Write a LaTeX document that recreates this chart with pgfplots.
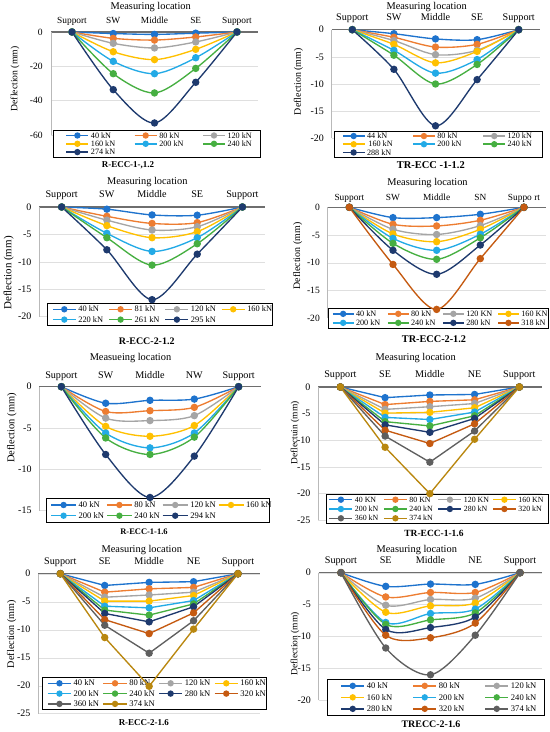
\documentclass[border=0pt]{standalone}
\usepackage{fontspec}
\setmainfont{Liberation Serif}
\usepackage{pgfplots}
\pgfplotsset{compat=1.18}
\definecolor{c40}{RGB}{30,115,205}
\definecolor{c80}{RGB}{237,125,49}
\definecolor{c120}{RGB}{165,165,165}
\definecolor{c160}{RGB}{255,192,0}
\definecolor{c200}{RGB}{35,170,230}
\definecolor{c240}{RGB}{70,175,65}
\definecolor{cnavy}{RGB}{30,58,110}
\definecolor{cdor}{RGB}{197,90,17}
\definecolor{cdgray}{RGB}{95,95,95}
\definecolor{cgold}{RGB}{185,135,15}
\definecolor{axgray}{RGB}{110,110,110}
\newcommand{\fs}[1]{\fontsize{#1}{#1}\selectfont}
\newcommand{\LT}[4]{\makebox[#1bp][l]{\rule[-#3bp]{0pt}{#2bp}#4}}
\pgfplotsset{
  layers/mylayers/.define layer set={axis background,axis grid,axis ticks,axis lines,axis tick labels,axis descriptions,pre main,main,axis foreground}{/pgfplots/layers/standard},
  set layers=mylayers,
  limg/.style={legend image code/.code={\draw[mark repeat=2,mark phase=2,##1,line width=1.5bp,mark size=2.4bp] plot coordinates {(0bp,0bp)(#1bp/2,0bp)(#1bp,0bp)};}},
  panel/.style={
    scale only axis, clip=false, anchor=south west,
    xmin=-0.5, xmax=4.5, ymax=0,
    axis x line*=top, axis y line*=left,
    xtick={0,1,2,3,4},
    x axis line style={line width=1.4bp, draw=axgray},
    y axis line style={line width=0.5bp, draw=gray!55},
    tick style={draw=none}, major tick length=0pt,
    ymajorgrids, grid style={line width=0.4bp, draw=gray!25},
    yticklabel style={anchor=east, inner sep=0pt, xshift=-7.5bp, font=\fs{10}},
    xticklabel style={anchor=base, inner sep=0pt, font=\fs{10.2}},
    legend cell align=left,
    every axis plot/.append style={line width=1.35bp, mark=*, mark size=3bp, mark options={solid}},
    legend style={at={(axis description cs:0,0)}, anchor=north west, draw=black, line width=0.7bp, fill=white,
      cells={anchor=west}, nodes={inner sep=0pt, text depth={}}, row sep=0pt,
      /tikz/every odd column/.append style={column sep=1.8bp},
      /tikz/every even column/.append style={column sep=0pt}},
  },
}
\begin{document}
\begin{tikzpicture}
\path (0,0) rectangle (550bp,732bp);
% ---------- Panel 1
\begin{axis}[panel, at={(51.4bp,597bp)}, width=206.2bp, height=103bp,
  ymin=-60, ytick={-60,-40,-20,0}, yticklabels={-60,-40,-20,0},
  xticklabels={Support,SW,Middle,SE,Support},
  xticklabel style={yshift=8bp, font=\fs{9.4}}, yticklabel style={xshift=-1bp, font=\fs{9.6}},
  legend columns=3, limg=22,
  legend style={xshift=1.9bp, yshift=5bp, inner xsep=12bp, inner ysep=1bp, font=\fs{8.2}}]
\addplot[c40, smooth, tension=0.5] coordinates {(0,0)(1,-0.9)(2,-1.4)(3,-0.7)(4,0)}; \addlegendentry{\LT{43}{8.3}{1.5}{40 kN}}
\addplot[c80, smooth, tension=0.5] coordinates {(0,0)(1,-3.7)(2,-4.7)(3,-2.9)(4,0)}; \addlegendentry{\LT{43}{8.3}{1.5}{80 kN}}
\addplot[c120, smooth, tension=0.5] coordinates {(0,0)(1,-6.6)(2,-9.3)(3,-5.8)(4,0)}; \addlegendentry{\LT{21}{8.3}{1.5}{120 kN}}
\addplot[c160, smooth, tension=0.5] coordinates {(0,0)(1,-11.5)(2,-16.1)(3,-10.1)(4,0)}; \addlegendentry{\LT{43}{8.3}{1.5}{160 kN}}
\addplot[c200, smooth, tension=0.5] coordinates {(0,0)(1,-17.1)(2,-24.3)(3,-15.0)(4,0)}; \addlegendentry{\LT{43}{8.3}{1.5}{200 kN}}
\addplot[c240, smooth, tension=0.5] coordinates {(0,0)(1,-24.3)(2,-35.5)(3,-21.2)(4,0)}; \addlegendentry{\LT{21}{8.3}{1.5}{240 kN}}
\addplot[cnavy, smooth, tension=0.5] coordinates {(0,0)(1,-33.6)(2,-53.0)(3,-29.3)(4,0)}; \addlegendentry{\LT{43}{8.3}{1.5}{274 kN}}
\end{axis}
\node[font=\fs{10.4}, inner sep=0] at (150.7bp,724.7bp) {Measuring location};
\node[font=\fs{9.7}, rotate=90, inner sep=0] at (15bp,653bp) {Deflection (mm)};
\node[font=\bfseries\fs{9}, inner sep=0] at (128bp,567bp) {R-ECC-1-,1.2};
% ---------- Panel 2
\begin{axis}[panel, at={(331.5bp,593.7bp)}, width=208bp, height=108.6bp,
  ymin=-20, ytick={-20,-15,-10,-5,0}, yticklabels={-20,-15,-10,-5,0},
  xticklabels={Support,SW,Middle,SE,Support},
  xticklabel style={yshift=9bp},
  legend columns=3, limg=21.7,
  legend style={xshift=2.8bp, yshift=7.3bp, inner xsep=7.4bp, inner ysep=0.6bp, font=\fs{8.2}}]
\addplot[c40, smooth, tension=0.5] coordinates {(0,0)(1,-0.74)(2,-1.7)(3,-1.84)(4,0)}; \addlegendentry{\LT{45.3}{8.2}{1.45}{44 kN}}
\addplot[c80, smooth, tension=0.5] coordinates {(0,0)(1,-1.4)(2,-3.2)(3,-2.7)(4,0)}; \addlegendentry{\LT{45.3}{8.2}{1.45}{80 kN}}
\addplot[c120, smooth, tension=0.5] coordinates {(0,0)(1,-2.0)(2,-4.6)(3,-3.8)(4,0)}; \addlegendentry{\LT{27.2}{8.2}{1.45}{120 kN}}
\addplot[c160, smooth, tension=0.5] coordinates {(0,0)(1,-2.7)(2,-6.1)(3,-4.0)(4,0)}; \addlegendentry{\LT{45.3}{8.2}{1.45}{\,160 kN}}
\addplot[c200, smooth, tension=0.5] coordinates {(0,0)(1,-3.8)(2,-8.0)(3,-5.5)(4,0)}; \addlegendentry{\LT{45.3}{8.2}{1.45}{200 kN}}
\addplot[c240, smooth, tension=0.5] coordinates {(0,0)(1,-4.7)(2,-10.0)(3,-6.4)(4,0)}; \addlegendentry{\LT{27.2}{8.2}{1.45}{240 kN}}
\addplot[cnavy, smooth, tension=0.5] coordinates {(0,0)(1,-7.3)(2,-17.7)(3,-9.2)(4,0)}; \addlegendentry{\LT{45.3}{8.2}{1.45}{288 kN}}
\end{axis}
\node[font=\fs{10.4}, inner sep=0] at (426.7bp,724.5bp) {Measuring location};
\node[font=\fs{10}, rotate=90, inner sep=0] at (298.3bp,650.3bp) {Deflection (mm)};
\node[font=\bfseries\fs{10.5}, inner sep=0] at (430.8bp,567bp) {TR-ECC -1-1.2};
% ---------- Panel 3
\begin{axis}[panel, at={(39.1bp,415.3bp)}, width=225.9bp, height=109.7bp,
  ymin=-20, ytick={-20,-15,-10,-5,0}, yticklabels={-20,-15,-10,-5,0},
  xticklabels={Support,SW,Middle,SE,Support},
  xticklabel style={yshift=9bp},
  legend columns=4, limg=23,
  legend style={xshift=7.6bp, yshift=13.4bp, inner xsep=5bp, inner ysep=0.5bp, font=\fs{8.4}}]
\addplot[c40, smooth, tension=0.5] coordinates {(0,0)(1,-0.4)(2,-1.45)(3,-1.5)(4,0)}; \addlegendentry{\LT{30}{10.3}{2.5}{40 kN}}
\addplot[c80, smooth, tension=0.5] coordinates {(0,0)(1,-1.7)(2,-3.0)(3,-2.85)(4,0)}; \addlegendentry{\LT{30}{10.3}{2.5}{81 kN}}
\addplot[c120, smooth, tension=0.5] coordinates {(0,0)(1,-2.4)(2,-4.2)(3,-3.6)(4,0)}; \addlegendentry{\LT{30}{10.3}{2.5}{120 kN}}
\addplot[c160, smooth, tension=0.5] coordinates {(0,0)(1,-3.4)(2,-5.6)(3,-4.5)(4,0)}; \addlegendentry{\LT{20.3}{10.3}{2.5}{160 kN}}
\addplot[c200, smooth, tension=0.5] coordinates {(0,0)(1,-4.8)(2,-8.1)(3,-5.6)(4,0)}; \addlegendentry{\LT{30}{10.3}{2.5}{220 kN}}
\addplot[c240, smooth, tension=0.5] coordinates {(0,0)(1,-5.6)(2,-10.6)(3,-6.7)(4,0)}; \addlegendentry{\LT{30}{10.3}{2.5}{261 kN}}
\addplot[cnavy, smooth, tension=0.5] coordinates {(0,0)(1,-7.8)(2,-16.9)(3,-8.6)(4,0)}; \addlegendentry{\LT{30}{10.3}{2.5}{295 kN}}
\end{axis}
\node[font=\fs{10.4}, inner sep=0] at (147.3bp,549.7bp) {Measuring location};
\node[font=\fs{11}, rotate=90, inner sep=0] at (8.6bp,459bp) {Deflection (mm)};
\node[font=\bfseries\fs{10}, inner sep=0] at (146.7bp,390.3bp) {R-ECC-2-1.2};
% ---------- Panel 4
\begin{axis}[panel, at={(327.5bp,413.7bp)}, width=218.3bp, height=111bp,
  ymin=-20, ytick={-20,-15,-10,-5,0}, yticklabels={-20,-15,-10,-5,0},
  xticklabels={Support,SW,Middle,SN,Suppo rt},
  xticklabel style={yshift=7bp, font=\fs{9.4}}, yticklabel style={font=\fs{9.6}},
  legend columns=4, limg=20.7,
  legend style={xshift=0.2bp, yshift=10bp, inner xsep=4bp, inner ysep=0.7bp, font=\fs{8.2}}]
\addplot[c40, smooth, tension=0.5] coordinates {(0,0)(1,-1.86)(2,-1.86)(3,-1.26)(4,0)}; \addlegendentry{\LT{31.1}{9}{1.85}{40 kN}}
\addplot[c80, smooth, tension=0.5] coordinates {(0,0)(1,-3.06)(2,-3.36)(3,-2.34)(4,0)}; \addlegendentry{\LT{31.1}{9}{1.85}{80 kN}}
\addplot[c120, smooth, tension=0.5] coordinates {(0,0)(1,-3.96)(2,-4.9)(3,-3.3)(4,0)}; \addlegendentry{\LT{31.1}{9}{1.85}{120 KN}}
\addplot[c160, smooth, tension=0.5] coordinates {(0,0)(1,-4.8)(2,-6.2)(3,-3.96)(4,0)}; \addlegendentry{\LT{22.9}{9}{1.85}{160 KN}}
\addplot[c200, smooth, tension=0.5] coordinates {(0,0)(1,-5.6)(2,-7.75)(3,-4.86)(4,0)}; \addlegendentry{\LT{31.1}{9}{1.85}{200 kN}}
\addplot[c240, smooth, tension=0.5] coordinates {(0,0)(1,-6.5)(2,-9.37)(3,-5.5)(4,0)}; \addlegendentry{\LT{31.1}{9}{1.85}{240 kN}}
\addplot[cnavy, smooth, tension=0.5] coordinates {(0,0)(1,-7.75)(2,-12.07)(3,-6.8)(4,0)}; \addlegendentry{\LT{31.1}{9}{1.85}{280 kN}}
\addplot[cdor, smooth, tension=0.5] coordinates {(0,0)(1,-10.3)(2,-18.4)(3,-9.25)(4,0)}; \addlegendentry{\LT{22.9}{9}{1.85}{318 kN}}
\end{axis}
\node[font=\fs{10.4}, inner sep=0] at (427.5bp,548.7bp) {Measuring location};
\node[font=\fs{10}, rotate=90, inner sep=0] at (297.7bp,476bp) {Deflection (mm)};
\node[font=\bfseries\fs{10.3}, inner sep=0] at (434bp,392.7bp) {TR-ECC-2-1.2};
% ---------- Panel 5
\begin{axis}[panel, at={(39.2bp,221.3bp)}, width=221.6bp, height=124bp,
  ymin=-15, ytick={-15,-10,-5,0}, yticklabels={-15,-10,-5,0},
  xticklabels={Support,SW,Middle,NW,Support},
  xticklabel style={yshift=8bp},
  legend columns=4, limg=25,
  legend style={xshift=6.5bp, yshift=12.4bp, inner xsep=4.3bp, inner ysep=1bp, font=\fs{8.6}}]
\addplot[c40, smooth, tension=0.5] coordinates {(0,0)(1,-2.0)(2,-1.65)(3,-1.5)(4,0)}; \addlegendentry{\LT{27.5}{10.7}{2.7}{40 kN}}
\addplot[c80, smooth, tension=0.5] coordinates {(0,0)(1,-3.0)(2,-2.9)(3,-2.5)(4,0)}; \addlegendentry{\LT{27.5}{10.7}{2.7}{80 kN}}
\addplot[c120, smooth, tension=0.5] coordinates {(0,0)(1,-3.8)(2,-4.1)(3,-3.5)(4,0)}; \addlegendentry{\LT{27.5}{10.7}{2.7}{120 kN}}
\addplot[c160, smooth, tension=0.5] coordinates {(0,0)(1,-4.8)(2,-6.0)(3,-4.7)(4,0)}; \addlegendentry{\LT{18.9}{10.7}{2.7}{160 kN}}
\addplot[c200, smooth, tension=0.5] coordinates {(0,0)(1,-5.6)(2,-7.4)(3,-5.6)(4,0)}; \addlegendentry{\LT{27.5}{10.7}{2.7}{200 kN}}
\addplot[c240, smooth, tension=0.5] coordinates {(0,0)(1,-6.2)(2,-8.2)(3,-6.1)(4,0)}; \addlegendentry{\LT{27.5}{10.7}{2.7}{240 kN}}
\addplot[cnavy, smooth, tension=0.5] coordinates {(0,0)(1,-8.2)(2,-13.4)(3,-8.4)(4,0)}; \addlegendentry{\LT{27.5}{10.7}{2.7}{294 kN}}
\end{axis}
\node[font=\fs{10.4}, inner sep=0] at (130.5bp,373.7bp) {Measueing location};
\node[font=\fs{10.5}, rotate=90, inner sep=0] at (11.7bp,304bp) {Deflection (mm)};
\node[font=\bfseries\fs{8.5}, inner sep=0] at (144bp,200.5bp) {R-ECC-1-1.6};
% ---------- Panel 6
\begin{axis}[panel, at={(318bp,211.7bp)}, width=223.7bp, height=133.3bp,
  ymin=-25, ytick={-25,-20,-15,-10,-5,0}, yticklabels={-25,-20,-15,-10,-5,0},
  xticklabels={Support,SE,Middle,NE,Support},
  xticklabel style={yshift=9bp},
  legend columns=4, limg=23,
  legend style={xshift=7.7bp, yshift=26.3bp, inner xsep=2.6bp, inner ysep=0.7bp, font=\fs{7.9}}]
\addplot[c40] coordinates {(0,0)(1,-2.0)(2,-1.5)(3,-1.4)(4,0)}; \addlegendentry{\LT{28.2}{9.3}{2}{40 KN}}
\addplot[c80] coordinates {(0,0)(1,-3.3)(2,-2.7)(3,-2.4)(4,0)}; \addlegendentry{\LT{28.2}{9.3}{2}{80 KN}}
\addplot[c120] coordinates {(0,0)(1,-4.2)(2,-3.7)(3,-3.1)(4,0)}; \addlegendentry{\LT{28.2}{9.3}{2}{120 KN}}
\addplot[c160] coordinates {(0,0)(1,-4.9)(2,-4.75)(3,-3.9)(4,0)}; \addlegendentry{\LT{27}{9.3}{2}{160 KN}}
\addplot[c200] coordinates {(0,0)(1,-5.7)(2,-6.1)(3,-4.7)(4,0)}; \addlegendentry{\LT{28.2}{9.3}{2}{200 kN}}
\addplot[c240] coordinates {(0,0)(1,-6.5)(2,-7.3)(3,-5.4)(4,0)}; \addlegendentry{\LT{28.2}{9.3}{2}{240 kN}}
\addplot[cnavy] coordinates {(0,0)(1,-7.1)(2,-8.5)(3,-5.9)(4,0)}; \addlegendentry{\LT{28.2}{9.3}{2}{280 kN}}
\addplot[cdor] coordinates {(0,0)(1,-8.1)(2,-10.6)(3,-6.9)(4,0)}; \addlegendentry{\LT{27}{9.3}{2}{320 kN}}
\addplot[cdgray] coordinates {(0,0)(1,-9.2)(2,-14.1)(3,-8.25)(4,0)}; \addlegendentry{\LT{28.2}{9.3}{2}{360 kN}}
\addplot[cgold] coordinates {(0,0)(1,-11.3)(2,-20.0)(3,-9.8)(4,0)}; \addlegendentry{\LT{28.2}{9.3}{2}{374 kN}}
\end{axis}
\node[font=\fs{10.4}, inner sep=0] at (415.7bp,373.7bp) {Measuring location};
\node[font=\fs{9.5}, rotate=90, inner sep=0] at (295bp,299bp) {Deflectuin (mm)};
\node[font=\bfseries\fs{9.5}, inner sep=0] at (434bp,198.3bp) {TR-ECC-1-1.6};
% ---------- Panel 7
\begin{axis}[panel, at={(38.1bp,18.3bp)}, width=222.1bp, height=140bp,
  ymin=-25, ytick={-25,-20,-15,-10,-5,0}, yticklabels={-25,-20,-15,-10,-5,0},
  xticklabels={Support,SE,Middle,NE,Support},
  xticklabel style={yshift=9bp},
  legend columns=4, limg=23.3,
  legend style={xshift=3.6bp, yshift=36.4bp, inner xsep=5bp, inner ysep=0.5bp, font=\fs{8.6}}]
\addplot[c40] coordinates {(0,0)(1,-2.1)(2,-1.55)(3,-1.43)(4,0)}; \addlegendentry{\LT{29}{10.3}{2.5}{40 kN}}
\addplot[c80] coordinates {(0,0)(1,-3.3)(2,-2.7)(3,-2.45)(4,0)}; \addlegendentry{\LT{29}{10.3}{2.5}{80 kN}}
\addplot[c120] coordinates {(0,0)(1,-4.2)(2,-3.8)(3,-3.3)(4,0)}; \addlegendentry{\LT{29}{10.3}{2.5}{120 kN}}
\addplot[c160] coordinates {(0,0)(1,-4.9)(2,-4.9)(3,-3.9)(4,0)}; \addlegendentry{\LT{20.4}{10.3}{2.5}{160 kN}}
\addplot[c200] coordinates {(0,0)(1,-5.8)(2,-6.1)(3,-4.8)(4,0)}; \addlegendentry{\LT{29}{10.3}{2.5}{200 kN}}
\addplot[c240] coordinates {(0,0)(1,-6.5)(2,-7.4)(3,-5.4)(4,0)}; \addlegendentry{\LT{29}{10.3}{2.5}{240 kN}}
\addplot[cnavy] coordinates {(0,0)(1,-7.1)(2,-8.6)(3,-5.9)(4,0)}; \addlegendentry{\LT{29}{10.3}{2.5}{280 kN}}
\addplot[cdor] coordinates {(0,0)(1,-8.2)(2,-10.7)(3,-7.0)(4,0)}; \addlegendentry{\LT{20.4}{10.3}{2.5}{320 kN}}
\addplot[cdgray] coordinates {(0,0)(1,-9.2)(2,-14.2)(3,-8.4)(4,0)}; \addlegendentry{\LT{29}{10.3}{2.5}{360 kN}}
\addplot[cgold] coordinates {(0,0)(1,-11.4)(2,-20.1)(3,-9.9)(4,0)}; \addlegendentry{\LT{29}{10.3}{2.5}{374 kN}}
\end{axis}
\node[font=\fs{10.4}, inner sep=0] at (141.8bp,182bp) {Measuring location};
\node[font=\fs{10.2}, rotate=90, inner sep=0] at (11.7bp,98bp) {Deflection (mm)};
\node[font=\bfseries\fs{9}, inner sep=0] at (143.8bp,9.3bp) {R-ECC-2-1.6};
% ---------- Panel 8
\begin{axis}[panel, at={(318.6bp,31.7bp)}, width=223.8bp, height=127.6bp,
  ymin=-20, ytick={-20,-15,-10,-5,0}, yticklabels={-20,-15,-10,-5,0},
  xticklabels={Support,SE,Middle,NE,Support},
  xticklabel style={yshift=9bp},
  legend columns=3, limg=23.3,
  legend style={xshift=8.1bp, yshift=21.3bp, inner xsep=13.3bp, inner ysep=0.75bp, font=\fs{8.6}}]
\addplot[c40, smooth, tension=0.5] coordinates {(0,0)(1,-2.14)(2,-1.78)(3,-1.83)(4,0)}; \addlegendentry{\LT{45.4}{11.5}{3.1}{40 kN}}
\addplot[c80, smooth, tension=0.5] coordinates {(0,0)(1,-3.8)(2,-3.1)(3,-3.1)(4,0)}; \addlegendentry{\LT{45.4}{11.5}{3.1}{80 kN}}
\addplot[c120, smooth, tension=0.5] coordinates {(0,0)(1,-5.1)(2,-4.2)(3,-4.0)(4,0)}; \addlegendentry{\LT{19.7}{11.5}{3.1}{120 kN}}
\addplot[c160, smooth, tension=0.5] coordinates {(0,0)(1,-6.2)(2,-5.2)(3,-4.75)(4,0)}; \addlegendentry{\LT{45.4}{11.5}{3.1}{160 kN}}
\addplot[c200, smooth, tension=0.5] coordinates {(0,0)(1,-7.8)(2,-6.4)(3,-5.7)(4,0)}; \addlegendentry{\LT{45.4}{11.5}{3.1}{200 kN}}
\addplot[c240, smooth, tension=0.5] coordinates {(0,0)(1,-8.1)(2,-7.4)(3,-6.3)(4,0)}; \addlegendentry{\LT{19.7}{11.5}{3.1}{240 kN}}
\addplot[cnavy, smooth, tension=0.5] coordinates {(0,0)(1,-8.9)(2,-8.6)(3,-6.95)(4,0)}; \addlegendentry{\LT{45.4}{11.5}{3.1}{280 kN}}
\addplot[cdor, smooth, tension=0.5] coordinates {(0,0)(1,-9.8)(2,-10.2)(3,-7.9)(4,0)}; \addlegendentry{\LT{45.4}{11.5}{3.1}{320 kN}}
\addplot[cdgray, smooth, tension=0.5] coordinates {(0,0)(1,-11.8)(2,-16.0)(3,-9.8)(4,0)}; \addlegendentry{\LT{19.7}{11.5}{3.1}{374 kN}}
\end{axis}
\node[font=\fs{10.4}, inner sep=0] at (416.8bp,182bp) {Measuring location};
\node[font=\fs{9.5}, rotate=90, inner sep=0] at (295bp,88bp) {Deflection (mm)};
\node[font=\bfseries\fs{10}, inner sep=0] at (431bp,7.5bp) {TRECC-2-1.6};
\pgfresetboundingbox
\path[use as bounding box] (0,0) rectangle (550bp,732bp);
\end{tikzpicture}
\end{document}
